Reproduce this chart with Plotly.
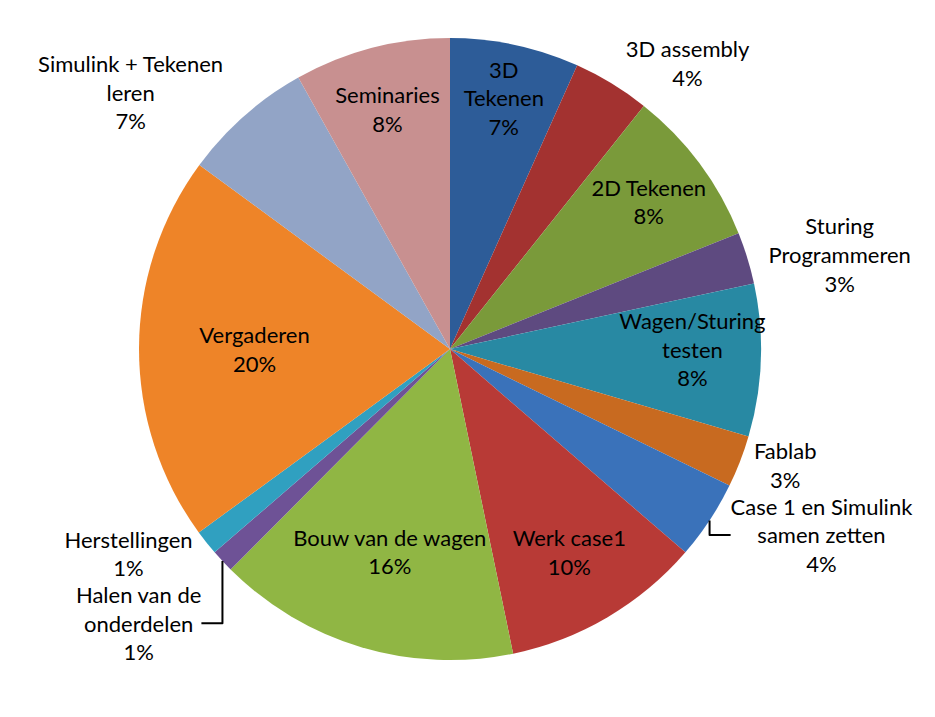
import plotly.graph_objects as go

categories = [
    "3D Tekenen", "3D assembly", "2D Tekenen", "Sturing Programmeren",
    "Wagen/Sturing testen", "Fablab", "Case 1 en Simulink samen zetten",
    "Werk case1", "Bouw van de wagen", "Halen van de onderdelen",
    "Herstellingen", "Vergaderen", "Simulink + Tekenen leren", "Seminaries",
]
display_names = [
    "3D<br>Tekenen", "3D assembly", "2D Tekenen", "Sturing<br>Programmeren",
    "Wagen/Sturing<br>testen", "Fablab", "Case 1 en Simulink<br>samen zetten",
    "Werk case1", "Bouw van de wagen", "Halen van de<br>onderdelen",
    "Herstellingen", "Vergaderen", "Simulink + Tekenen<br>leren", "Seminaries",
]
values = [6.7, 4.0, 8.2, 2.7, 7.9, 2.7, 4.1, 10.4, 15.7, 1.2, 1.3, 20.1, 6.8, 8.1]
colors = [
    "#2D5C98", "#A33230", "#7A9A3A", "#5E4A80", "#2889A3", "#C86A20",
    "#3A72BA", "#B83A36", "#90B644", "#6E5296", "#30A0C0", "#EE8428",
    "#92A4C6", "#C89090",
]
positions = [
    "inside", "outside", "inside", "outside", "inside", "outside", "outside",
    "inside", "inside", "outside", "outside", "inside", "outside", "inside",
]

fig = go.Figure(go.Pie(
    labels=categories,
    values=values,
    text=display_names,
    texttemplate="%{text}<br>%{percent:.0%}",
    textposition=positions,
    insidetextorientation="horizontal",
    sort=False,
    direction="clockwise",
    rotation=0,
    marker=dict(colors=colors, line=dict(width=0)),
    insidetextfont=dict(family="Lato, Carlito, Calibri, sans-serif", size=24, color="#000000"),
    outsidetextfont=dict(family="Lato, Carlito, Calibri, sans-serif", size=22, color="#000000"),
    showlegend=False,
    hoverinfo="label+percent",
    domain=dict(x=[0.0, 1.0], y=[0.06, 0.99]),
))

fig.update_layout(
    width=935, height=717,
    margin=dict(l=0, r=0, t=0, b=0),
    paper_bgcolor="white",
    plot_bgcolor="white",
    uniformtext=dict(minsize=22, mode="show"),
)

fig.write_html("out.html")
